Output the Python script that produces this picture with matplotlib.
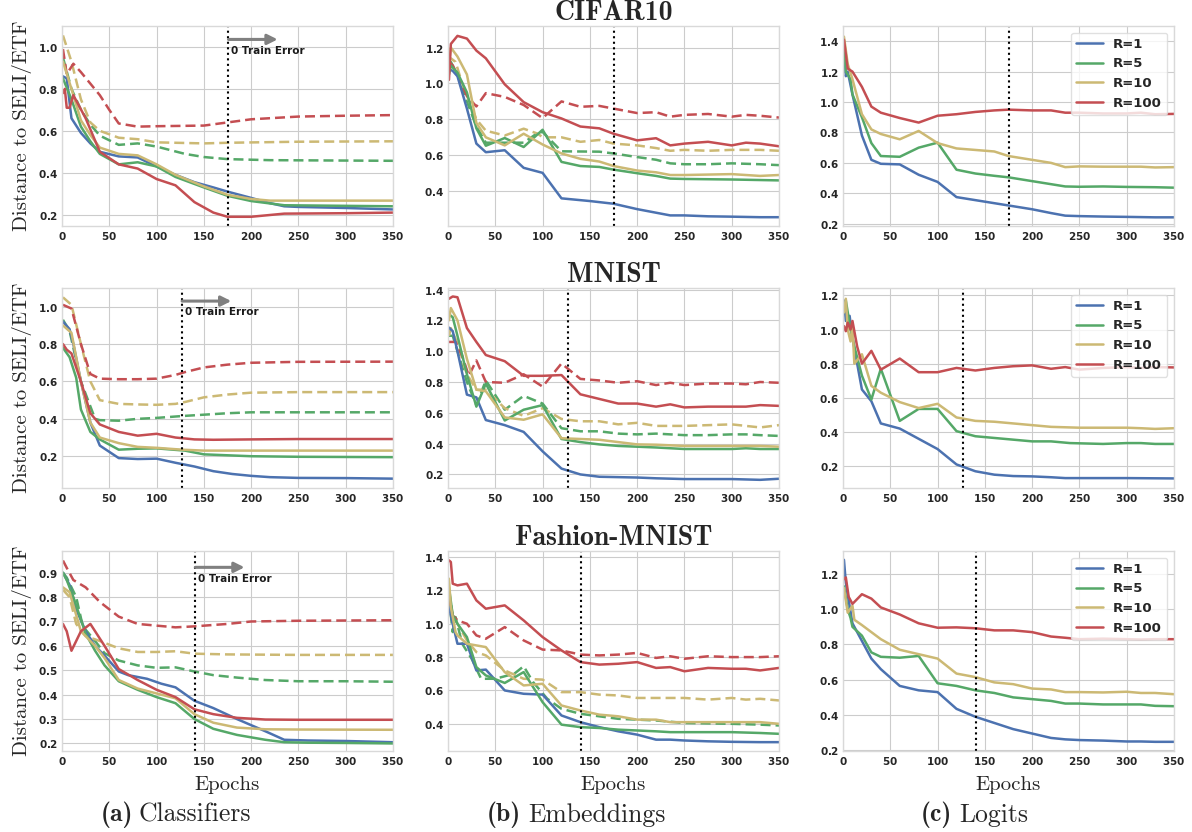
import matplotlib
matplotlib.use("Agg")
import matplotlib.pyplot as plt

plt.style.use("seaborn-v0_8-whitegrid")
plt.rcParams["font.family"] = "DejaVu Sans"
plt.rcParams["axes.formatter.use_mathtext"] = True

BLUE, GREEN, GOLD, RED = "#4C72B0", "#55A868", "#CCB974", "#C44E52"
R_COLORS = {1: BLUE, 5: GREEN, 10: GOLD, 100: RED}

# zero train error reached at these epochs
ZERO_ERR = {"CIFAR10": 176, "MNIST": 127, "Fashion-MNIST": 141}

# ---- CIFAR10 ----
cifar_cls_solid = {
    1: [(1, .86), (5, .85), (10, .66), (20, .59), (30, .54), (40, .50), (60, .478), (80, .473), (100, .43), (120, .39),
        (140, .355), (160, .33), (175, .31), (200, .28), (220, .255), (235, .24), (250, .237), (300, .232), (350, .225)],
    5: [(1, .85), (10, .75), (20, .62), (30, .55), (40, .49), (50, .465), (60, .44), (80, .45), (100, .43), (120, .38),
        (150, .33), (175, .29), (200, .265), (235, .245), (350, .24)],
    10: [(1, .93), (10, .80), (20, .65), (30, .58), (40, .52), (60, .49), (80, .483), (100, .44), (120, .39), (150, .335),
         (175, .295), (200, .275), (220, .267), (350, .267)],
    100: [(1, .78), (3, .80), (5, .71), (8, .71), (12, .77), (25, .66), (40, .50), (60, .44), (80, .42), (100, .37),
          (120, .34), (140, .26), (160, .21), (175, .19), (200, .19), (235, .205), (300, .207), (350, .21)],
}
cifar_cls_dashed = {
    5: [(1, .95), (10, .80), (20, .70), (30, .63), (40, .577), (60, .533), (80, .54), (100, .525), (130, .49), (150, .475),
        (175, .465), (220, .46), (350, .457)],
    10: [(1, 1.055), (5, 1.0), (10, .93), (20, .75), (30, .64), (40, .60), (60, .567), (80, .56), (100, .545), (150, .54),
         (175, .543), (250, .548), (350, .55)],
    100: [(1, .99), (5, .87), (12, .92), (20, .88), (40, .77), (50, .70), (60, .635), (80, .62), (100, .622), (150, .625),
          (175, .64), (200, .655), (250, .668), (300, .672), (350, .675)],
}
cifar_emb_solid = {
    1: [(1, 1.08), (5, 1.07), (10, 1.04), (20, .86), (30, .665), (40, .617), (60, .628), (80, .53), (100, .502), (120, .36),
        (150, .345), (175, .33), (200, .30), (235, .265), (250, .265), (275, .26), (300, .258), (330, .255), (350, .255)],
    5: [(1, 1.05), (3, 1.1), (10, 1.06), (20, .95), (30, .75), (40, .653), (60, .696), (80, .646), (100, .742), (120, .563),
        (140, .54), (160, .535), (175, .52), (200, .50), (220, .485), (235, .47), (250, .468), (300, .465), (350, .46)],
    10: [(1, 1.1), (3, 1.2), (10, 1.15), (20, 1.05), (30, .78), (40, .70), (60, .655), (80, .72), (100, .66), (120, .61),
         (140, .58), (160, .565), (175, .54), (200, .515), (220, .505), (235, .49), (250, .49), (300, .495), (330, .485),
         (350, .49)],
    100: [(1, 1.02), (3, 1.22), (10, 1.265), (20, 1.25), (30, 1.183), (40, 1.14), (60, .995), (80, .896), (100, .84),
          (120, .805), (140, .76), (160, .75), (175, .72), (200, .683), (220, .695), (235, .655), (250, .665), (275, .675),
          (300, .655), (315, .67), (330, .665), (350, .65)],
}
cifar_emb_dashed = {
    5: [(1, 1.1), (3, 1.12), (10, 1.05), (20, .9), (30, .76), (40, .67), (60, .67), (80, .67), (95, .725), (100, .73),
        (120, .622), (160, .62), (175, .61), (200, .59), (220, .575), (235, .555), (250, .55), (275, .55), (300, .555),
        (330, .55), (350, .545)],
    10: [(1, 1.12), (3, 1.14), (8, 1.12), (15, 1.0), (30, .80), (40, .737), (60, .71), (80, .748), (95, .72), (100, .70),
         (120, .70), (140, .675), (160, .685), (175, .665), (200, .655), (220, .64), (235, .625), (250, .63), (275, .625),
         (300, .63), (330, .63), (350, .625)],
    100: [(1, 1.12), (5, 1.10), (10, 1.05), (20, .93), (30, .872), (40, .946), (60, .925), (80, .88), (100, .807),
          (120, .90), (140, .87), (160, .875), (180, .855), (200, .835), (220, .84), (235, .815), (250, .825), (275, .83),
          (300, .815), (315, .825), (330, .82), (350, .81)],
}
cifar_logit = {
    1: [(1, 1.38), (3, 1.17), (5, 1.20), (10, 1.05), (20, .78), (30, .62), (40, .594), (60, .59), (80, .522), (100, .475),
        (120, .375), (140, .355), (160, .335), (175, .32), (200, .295), (220, .27), (235, .253), (250, .25), (275, .247),
        (300, .245), (330, .242), (350, .242)],
    5: [(1, 1.40), (3, 1.20), (8, 1.15), (10, 1.05), (20, .90), (30, .73), (40, .645), (60, .64), (80, .70), (100, .733),
        (120, .555), (140, .53), (160, .515), (175, .505), (200, .48), (220, .46), (235, .445), (250, .443), (275, .445),
        (300, .442), (330, .44), (350, .437)],
    10: [(1, 1.43), (5, 1.25), (10, 1.15), (20, .92), (30, .82), (40, .79), (60, .755), (80, .81), (100, .73), (120, .695),
         (140, .685), (160, .675), (175, .645), (200, .62), (220, .60), (235, .572), (250, .577), (275, .575), (300, .575),
         (315, .575), (330, .57), (350, .572)],
    100: [(1, 1.41), (5, 1.22), (10, 1.20), (20, 1.10), (30, .97), (40, .93), (60, .895), (80, .865), (100, .91),
          (120, .92), (140, .935), (160, .945), (175, .95), (200, .945), (220, .945), (235, .93), (250, .93), (275, .925),
          (300, .925), (315, .93), (330, .92), (350, .922)],
}

# ---- MNIST ----
mnist_cls_solid = {
    1: [(1, .92), (8, .88), (12, .80), (20, .60), (30, .38), (40, .257), (60, .19), (80, .185), (100, .187), (120, .165),
        (140, .145), (160, .12), (180, .105), (200, .095), (220, .088), (250, .084), (300, .083), (350, .08)],
    5: [(1, .78), (8, .73), (15, .62), (20, .45), (30, .33), (40, .29), (60, .235), (80, .24), (100, .242), (130, .23),
        (150, .21), (200, .20), (250, .197), (350, .195)],
    10: [(1, .90), (10, .86), (20, .60), (30, .38), (40, .30), (60, .27), (80, .25), (100, .245), (127, .235), (150, .23),
         (350, .23)],
    100: [(1, .80), (5, .77), (10, .75), (20, .60), (30, .43), (40, .37), (60, .33), (80, .31), (100, .32), (120, .30),
          (140, .29), (160, .288), (200, .29), (250, .292), (350, .292)],
}
mnist_cls_dashed = {
    5: [(1, .93), (8, .87), (20, .60), (35, .40), (40, .393), (60, .39), (80, .40), (100, .405), (127, .415), (175, .43),
        (200, .435), (350, .435)],
    10: [(1, 1.05), (10, 1.01), (20, .80), (30, .60), (40, .50), (60, .48), (80, .477), (100, .475), (120, .48), (130, .49),
         (150, .515), (175, .53), (200, .54), (250, .543), (350, .543)],
    100: [(1, 1.01), (10, .99), (20, .80), (30, .64), (40, .615), (60, .612), (80, .612), (100, .615), (120, .635),
          (130, .65), (150, .675), (175, .69), (200, .70), (250, .705), (350, .706)],
}
mnist_emb_solid = {
    1: [(1, 1.153), (5, 1.13), (10, 1.0), (20, .718), (30, .70), (40, .553), (60, .52), (80, .476), (100, .35), (120, .238),
        (140, .20), (160, .185), (200, .18), (220, .175), (250, .17), (300, .17), (330, .165), (350, .172)],
    5: [(1, 1.24), (5, 1.22), (10, 1.10), (20, .85), (30, .64), (40, .79), (60, .55), (80, .62), (100, .65), (120, .43),
        (140, .41), (160, .395), (180, .385), (200, .38), (220, .375), (250, .365), (275, .365), (300, .365), (315, .37),
        (330, .365), (350, .365)],
    10: [(1, 1.2), (3, 1.28), (10, 1.20), (20, .95), (30, .75), (40, .74), (60, .57), (80, .555), (100, .59), (120, .435),
         (140, .43), (160, .425), (180, .41), (200, .395), (220, .393), (250, .385), (300, .385), (330, .385), (350, .38)],
    100: [(1, 1.34), (5, 1.355), (10, 1.35), (20, 1.15), (30, 1.06), (40, .975), (60, .935), (80, .84), (100, .84),
          (120, .845), (140, .72), (160, .69), (180, .66), (200, .66), (220, .64), (235, .655), (250, .635), (275, .64),
          (300, .64), (315, .64), (330, .65), (350, .645)],
}
mnist_emb_dashed = {
    5: [(1, 1.1), (5, 1.1), (10, 1.0), (20, .80), (30, .65), (40, .81), (60, .62), (80, .71), (100, .66), (120, .50),
        (140, .48), (160, .48), (180, .465), (200, .46), (220, .465), (250, .455), (275, .455), (300, .46), (315, .46),
        (330, .455), (350, .45)],
    10: [(1, 1.1), (3, 1.15), (10, 1.05), (20, .85), (30, .75), (40, .75), (60, .63), (80, .58), (100, .63), (120, .56),
         (140, .545), (160, .545), (180, .525), (200, .535), (220, .515), (250, .515), (275, .52), (300, .525), (315, .515),
         (330, .505), (350, .52)],
    100: [(1, 1.06), (8, 1.06), (15, .97), (22, .84), (30, .94), (40, .80), (60, .795), (80, .85), (100, .77), (120, .92),
          (140, .82), (160, .81), (180, .795), (200, .805), (220, .78), (235, .795), (250, .78), (275, .79), (300, .79),
          (315, .785), (330, .80), (350, .795)],
}
mnist_logit = {
    1: [(1, 1.17), (3, 1.05), (7, 1.08), (10, .95), (20, .649), (30, .58), (40, .45), (60, .42), (80, .36), (100, .30),
        (120, .21), (140, .17), (160, .15), (180, .142), (200, .14), (220, .135), (235, .13), (300, .13), (350, .128)],
    5: [(1, 1.10), (3, 1.17), (8, 1.0), (12, .90), (20, .73), (30, .59), (40, .77), (60, .465), (80, .535), (100, .535),
        (120, .405), (140, .375), (160, .365), (180, .355), (200, .345), (220, .345), (240, .335), (275, .33), (300, .335),
        (315, .335), (330, .33), (350, .33)],
    10: [(1, 1.10), (3, 1.18), (5, 1.0), (8, .93), (10, 1.02), (12, .80), (20, .855), (30, .67), (40, .63), (60, .575),
         (80, .54), (100, .565), (120, .485), (140, .465), (160, .46), (180, .45), (200, .44), (220, .43), (250, .425),
         (300, .425), (315, .422), (330, .418), (350, .422)],
    100: [(1, 1.02), (3, .99), (5, 1.04), (8, 1.0), (10, 1.05), (15, .90), (20, .80), (30, .875), (40, .765), (60, .83),
          (80, .75), (100, .75), (120, .775), (140, .76), (160, .775), (180, .785), (200, .79), (220, .77), (235, .78),
          (250, .765), (275, .775), (300, .78), (315, .775), (330, .78), (350, .778)],
}

# ---- Fashion-MNIST ----
fashion_cls_solid = {
    1: [(1, .90), (8, .85), (15, .75), (25, .66), (35, .60), (45, .56), (60, .495), (70, .48), (90, .465), (105, .445),
        (120, .43), (140, .375), (160, .345), (185, .30), (215, .25), (235, .215), (260, .212), (300, .21), (350, .205)],
    5: [(1, .90), (5, .87), (12, .80), (25, .65), (35, .58), (45, .52), (60, .455), (80, .42), (100, .39), (120, .365),
        (140, .30), (160, .26), (185, .235), (215, .215), (235, .205), (260, .203), (300, .202), (350, .20)],
    10: [(1, .84), (8, .82), (20, .66), (35, .60), (45, .55), (60, .46), (80, .425), (100, .405), (120, .385), (140, .32),
         (160, .285), (185, .265), (215, .258), (250, .257), (350, .256)],
    100: [(1, .69), (5, .66), (10, .58), (20, .66), (30, .69), (45, .60), (60, .505), (80, .46), (100, .42), (120, .39),
          (140, .34), (160, .32), (185, .305), (215, .298), (250, .297), (350, .297)],
}
fashion_cls_dashed = {
    5: [(1, .90), (5, .88), (15, .80), (22, .68), (35, .62), (45, .57), (60, .54), (80, .52), (100, .51), (120, .512),
        (140, .495), (160, .48), (185, .47), (215, .46), (250, .455), (300, .455), (350, .453)],
    10: [(1, .83), (8, .80), (15, .69), (25, .64), (40, .62), (60, .59), (80, .575), (100, .575), (120, .578), (140, .568),
         (175, .565), (250, .563), (350, .563)],
    100: [(1, .95), (5, .92), (12, .87), (25, .84), (40, .78), (60, .72), (80, .69), (100, .683), (120, .676), (140, .68),
          (175, .69), (200, .70), (250, .703), (350, .705)],
}
fashion_emb_solid = {
    1: [(1, 1.10), (5, 1.0), (10, .88), (20, .88), (30, .72), (40, .725), (60, .60), (80, .58), (100, .575), (120, .45),
        (140, .41), (160, .38), (180, .355), (200, .335), (220, .305), (235, .305), (250, .30), (275, .295), (300, .292),
        (330, .29), (350, .29)],
    5: [(1, 1.22), (5, 1.05), (10, 1.0), (20, .92), (30, .74), (40, .69), (60, .645), (80, .71), (100, .53), (120, .395),
        (140, .38), (160, .375), (180, .365), (200, .36), (220, .355), (235, .35), (250, .35), (300, .35), (330, .345),
        (350, .34)],
    10: [(1, 1.27), (3, 1.10), (8, .95), (10, .93), (20, .88), (30, .87), (40, .86), (60, .71), (80, .63), (100, .64),
         (120, .51), (140, .48), (160, .455), (180, .445), (200, .425), (220, .425), (235, .41), (250, .41), (275, .41),
         (300, .41), (330, .41), (350, .40)],
    100: [(1, 1.38), (3, 1.37), (5, 1.24), (10, 1.23), (20, 1.24), (30, 1.14), (40, 1.09), (60, 1.11), (80, 1.02),
          (100, .92), (120, .84), (140, .77), (160, .755), (180, .76), (200, .77), (220, .735), (235, .74), (250, .715),
          (275, .735), (300, .73), (315, .73), (330, .72), (350, .735)],
}
fashion_emb_dashed = {
    5: [(1, 1.15), (5, .95), (8, 1.04), (15, .88), (25, .79), (35, .67), (50, .67), (70, .70), (80, .745), (90, .65),
        (105, .55), (120, .49), (140, .46), (160, .445), (180, .43), (200, .425), (220, .42), (250, .405), (300, .40),
        (330, .395), (350, .39)],
    10: [(1, 1.20), (5, 1.05), (10, 1.0), (20, .90), (30, .83), (40, .81), (60, .72), (80, .67), (100, .665), (120, .59),
         (140, .59), (160, .575), (180, .57), (200, .555), (220, .555), (250, .555), (275, .545), (300, .555), (315, .545),
         (330, .55), (350, .54)],
    100: [(1, 1.16), (5, 1.05), (10, 1.02), (20, 1.0), (30, .93), (40, .91), (60, .98), (80, .90), (100, .845), (120, .84),
          (140, .815), (160, .81), (180, .815), (200, .825), (220, .795), (235, .805), (250, .79), (275, .805), (300, .80),
          (315, .80), (330, .80), (350, .805)],
}
fashion_logit = {
    1: [(1, 1.28), (3, 1.15), (6, 1.05), (10, .92), (20, .82), (30, .72), (40, .66), (60, .565), (80, .54), (100, .53),
        (120, .435), (140, .39), (160, .355), (180, .32), (200, .295), (220, .27), (235, .262), (250, .258), (275, .255),
        (300, .25), (315, .25), (330, .248), (350, .248)],
    5: [(1, 1.13), (5, 1.0), (8, .95), (10, .90), (20, .85), (30, .755), (40, .73), (60, .725), (80, .735), (100, .58),
        (120, .565), (140, .54), (160, .525), (180, .50), (200, .49), (220, .48), (235, .465), (250, .465), (275, .46),
        (300, .46), (315, .46), (330, .452), (350, .45)],
    10: [(1, 1.12), (5, .98), (10, 1.02), (12, .94), (20, .91), (30, .87), (40, .83), (60, .77), (80, .745), (100, .72),
         (120, .635), (140, .615), (160, .585), (180, .575), (200, .55), (220, .545), (235, .53), (250, .53), (275, .528),
         (300, .532), (315, .525), (330, .525), (350, .518)],
    100: [(1, 1.17), (3, 1.18), (6, 1.07), (10, 1.03), (20, 1.085), (30, 1.06), (40, 1.01), (60, .97), (80, .92),
          (100, .895), (120, .897), (140, .892), (160, .88), (180, .88), (200, .87), (220, .845), (235, .838), (250, .83),
          (275, .833), (300, .83), (315, .828), (330, .83), (350, .83)],
}

DATASETS = ["CIFAR10", "MNIST", "Fashion-MNIST"]
ROWS = [
    # (classifier solid, classifier dashed, emb solid, emb dashed, logits)
    (cifar_cls_solid, cifar_cls_dashed, cifar_emb_solid, cifar_emb_dashed, cifar_logit),
    (mnist_cls_solid, mnist_cls_dashed, mnist_emb_solid, mnist_emb_dashed, mnist_logit),
    (fashion_cls_solid, fashion_cls_dashed, fashion_emb_solid, fashion_emb_dashed, fashion_logit),
]
YLIMS = [
    [(0.146, 1.10), (0.206, 1.32), (0.185, 1.50)],
    [(0.03, 1.10), (0.112, 1.41), (0.072, 1.243)],
    [(0.169, 0.989), (0.237, 1.436), (0.196, 1.33)],
]
YTICKS = [
    [[.2, .4, .6, .8, 1.0], [.4, .6, .8, 1.0, 1.2], [.2, .4, .6, .8, 1.0, 1.2, 1.4]],
    [[.2, .4, .6, .8, 1.0], [.2, .4, .6, .8, 1.0, 1.2, 1.4], [.2, .4, .6, .8, 1.0, 1.2]],
    [[.2, .3, .4, .5, .6, .7, .8, .9], [.4, .6, .8, 1.0, 1.2, 1.4], [.2, .4, .6, .8, 1.0, 1.2]],
]
ARROW_Y = [(1.036, 0.983), (1.03, 0.973), (0.922, 0.875)]

W, H = 1192, 832
COL_LEFT = [62, 448, 843]
ROW_TOP = [26, 288, 551]
AX_W, AX_H = 331, 200

fig = plt.figure(figsize=(W / 100, H / 100), dpi=100)


def plot_curves(ax, curves, ls):
    for r, pts in curves.items():
        ep = [p[0] for p in pts]
        val = [p[1] for p in pts]
        ax.plot(ep, val, color=R_COLORS[r], ls=ls, lw=1.8,
                dashes=(4, 2) if ls == "--" else (None, None), label="R=%d" % r)


for row, name in enumerate(DATASETS):
    cls_s, cls_d, emb_s, emb_d, logit = ROWS[row]
    for col in range(3):
        ax = fig.add_axes([COL_LEFT[col] / W, 1 - (ROW_TOP[row] + AX_H) / H, AX_W / W, AX_H / H])
        if col == 0:
            plot_curves(ax, cls_d, "--")
            plot_curves(ax, cls_s, "-")
        elif col == 1:
            plot_curves(ax, emb_d, "--")
            plot_curves(ax, emb_s, "-")
        else:
            plot_curves(ax, logit, "-")
            leg = ax.legend(loc="upper right", prop={"weight": "bold", "size": 9.5}, frameon=True)
            leg.get_frame().set_edgecolor("0.85")

        ax.axvline(ZERO_ERR[name], color="black", ls=":", lw=1.5)
        ax.set_xlim(0, 350)
        ax.set_xticks(range(0, 351, 50))
        ax.set_ylim(*YLIMS[row][col])
        ax.set_yticks(YTICKS[row][col])
        ax.tick_params(labelsize=7.5, pad=3, colors="0.15")
        for lbl in ax.get_xticklabels() + ax.get_yticklabels():
            lbl.set_fontweight("bold")
        for sp in ax.spines.values():
            sp.set_color("0.85")

        if col == 0:
            ay, ty = ARROW_Y[row]
            x0 = ZERO_ERR[name]
            ax.annotate("", xy=(x0 + 52, ay), xytext=(x0, ay),
                        arrowprops=dict(arrowstyle="-|>,head_length=0.6,head_width=0.3",
                                        color="0.5", lw=2.2, shrinkA=0, shrinkB=0))
            ax.text(x0 + 3, ty, "0 Train Error", fontsize=7.5, fontweight="bold", va="center", color="0.1")
            ax.set_ylabel("Distance to SELI/ETF", family="cmr10", fontsize=15, labelpad=4)
        if col == 1:
            ax.set_title(name, family="cmb10", fontsize=20, pad=1)
        if row == 2:
            ax.set_xlabel("Epochs", family="cmr10", fontsize=15, labelpad=6)

# sub-figure captions
for (bx, tx), tag, cap in zip([(133, 138), (521, 528), (952, 959)], ["(a)", "(b)", "(c)"],
                              ["Classifiers", "Embeddings", "Logits"]):
    fig.text(bx / W, 1 - 815 / H, tag, family="cmb10", fontsize=18.5, ha="right", va="center")
    fig.text(tx / W, 1 - 815 / H, cap, family="cmr10", fontsize=18.5, ha="left", va="center")

fig.savefig("out.png", dpi=100)
